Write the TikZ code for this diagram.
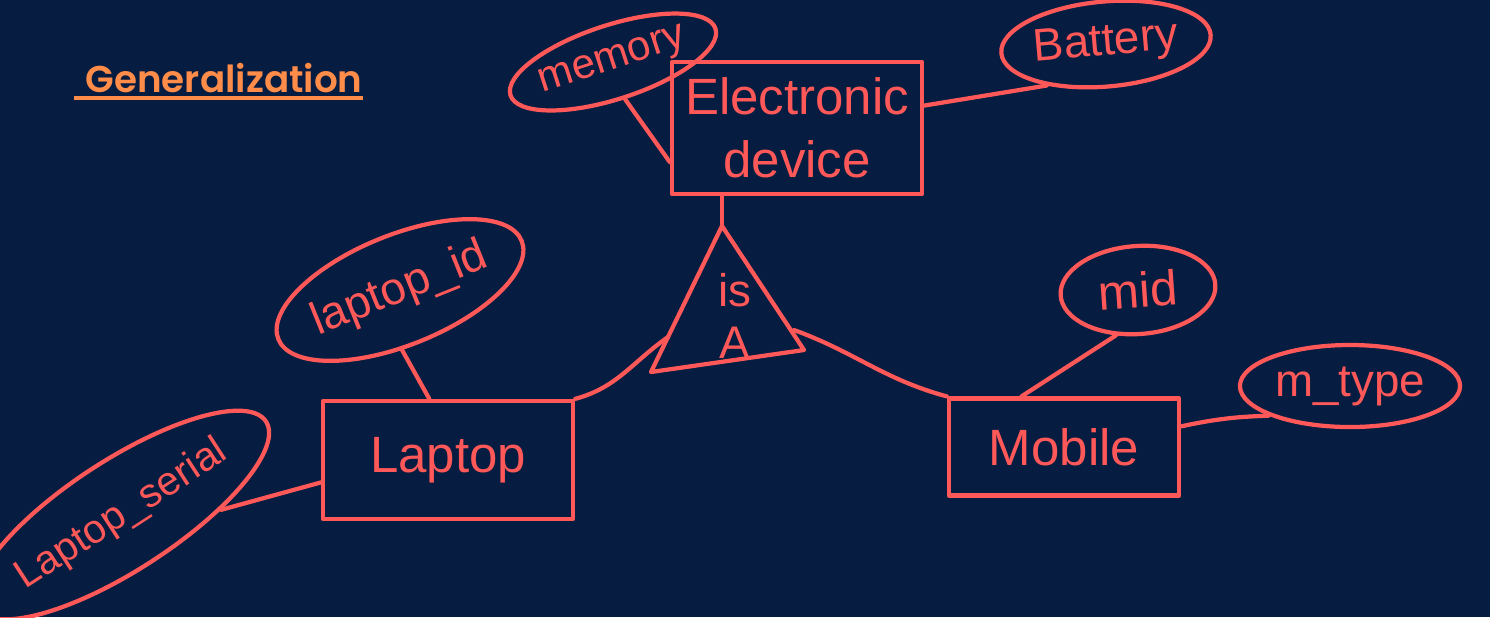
\documentclass[tikz,border=0pt]{standalone}
\usepackage{fontspec}
\setmainfont{Liberation Sans}
\newfontfamily\titlefont{Poppins}[BoldFont={Poppins SemiBold}]
\usetikzlibrary{shapes,shapes.geometric}
\definecolor{board}{RGB}{6,28,64}
\definecolor{ink}{RGB}{255,88,88}
\definecolor{headline}{RGB}{255,140,72}

\begin{document}
\begin{tikzpicture}[x=0.01cm,y=-0.01cm]
	\tikzset{pen/.style={draw=ink,line width=1.2pt,line cap=round,line join=round}}
	\tikzset{entity/.style={pen,rectangle,text=ink,align=center,font=\fontsize{14.5}{18}\selectfont}}
	\tikzset{attrib/.style={pen,ellipse,text=ink,inner sep=0pt,font=\fontsize{13}{15}\selectfont}}
	\tikzset{heading/.style={text=headline,inner xsep=0pt,inner ysep=0.5mm,font=\titlefont\bfseries\fontsize{10.6}{13}\selectfont}}
	\useasboundingbox (0,0) rectangle (1490,617);
	\fill[board] (0,0) rectangle (1490,617);
	\node[heading,anchor=base west] (gen) at (85,92) {Generalization};
	\draw[headline,line width=0.9pt] ([xshift=-0.11cm]gen.south west) -- (gen.south east);
	\node[entity,minimum width=2.5cm,minimum height=1.32cm] (ed) at (797,128) {Electronic\\device};
	\node[entity,minimum width=2.5cm,minimum height=1.18cm] (lap) at (448,460) {Laptop};
	\node[entity,minimum width=2.3cm,minimum height=0.97cm] (mob) at (1064,447) {Mobile};
	\node[attrib,rotate=18,minimum width=1.84cm,minimum height=0.74cm,font=\fontsize{12}{14}\selectfont] (mem) at (613,62) {memory};
	\node[attrib,rotate=5,minimum width=2.1cm,minimum height=0.85cm] (bat) at (1106,44) {Battery};
	\node[attrib,rotate=22,minimum width=2.4cm,minimum height=1.1cm,font=\fontsize{13}{15}\selectfont] (lid) at (400,290) {laptop\_id};
	\node[attrib,rotate=33,minimum width=2.75cm,minimum height=1.1cm,font=\fontsize{11.5}{13}\selectfont] (ls) at (122,515) {Laptop\_serial};
	\node[attrib,rotate=4,minimum width=1.55cm,minimum height=0.88cm,font=\fontsize{14}{16}\selectfont] (mid) at (1138,290) {mid};
	\node[attrib,minimum width=2.2cm,minimum height=0.82cm] (mt) at (1350,386) {m\_type};
	\coordinate (tA) at (722,226);
	\coordinate (tL) at (651,372);
	\coordinate (tR) at (804,350);
	\coordinate (isaL) at (668,337);
	\coordinate (isaR) at (794,330);
	\draw[pen] (tA) -- (tL) -- (tR) -- cycle;
	\node[text=ink,align=center,font=\fontsize{13}{15}\selectfont] (isa) at (735,316) {is\\A};
	\draw[pen] (tA) -- (tA |- ed.south);
	\draw[pen] (mem.south) -- (ed.195);
	\draw[pen] (ed.10) -- (bat.210);
	\draw[pen] (lid.250) -- (lap.107);
	\draw[pen] (ls.-30) -- (lap.190);
	\draw[pen] (isaL) to[out=215,in=15] (lap.north east);
	\draw[pen] (isaR) to[out=-20,in=165] (mob.north west);
	\draw[pen] (mid.240) -- (mob.130);
	\draw[pen] (mob.10) to[bend left=5] (mt.200);
\end{tikzpicture}
\end{document}
